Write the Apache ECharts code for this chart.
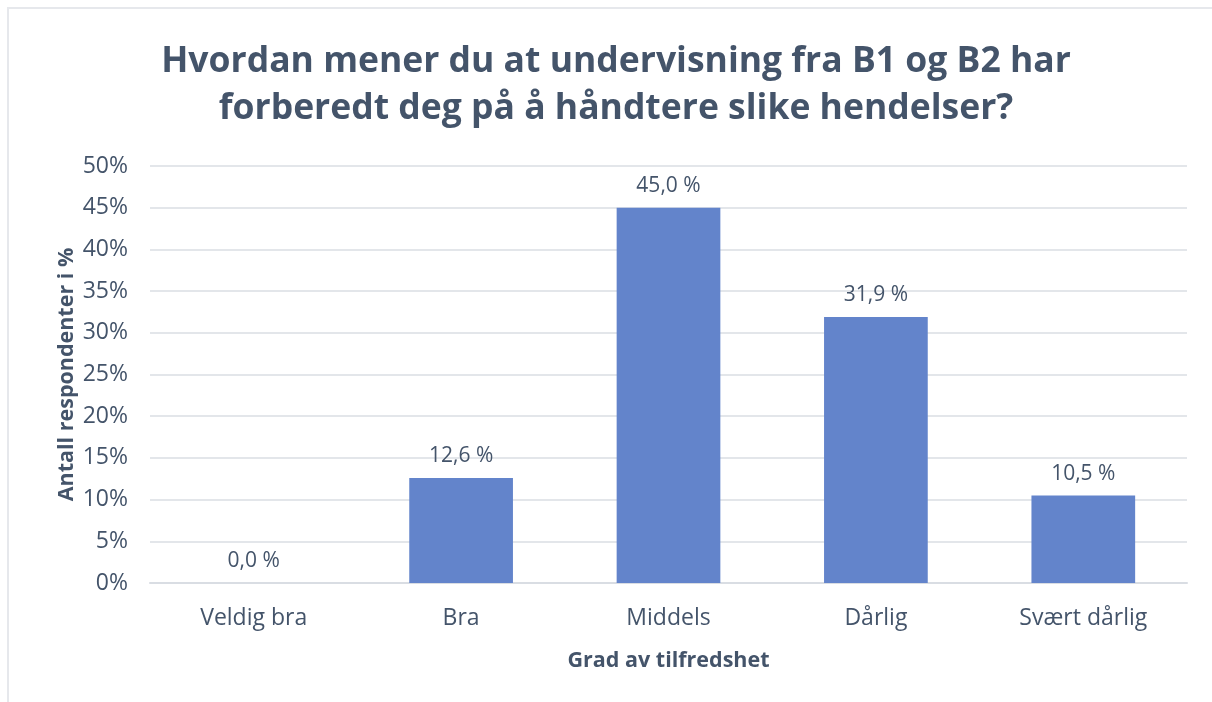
<!DOCTYPE html>
<html>
<head>
<meta charset="utf-8">
<script src="https://cdn.jsdelivr.net/npm/echarts@6/dist/echarts.min.js"></script>
<style>
  html, body { margin: 0; padding: 0; background: #fff; }
  #frame { position: absolute; left: 7px; top: 7px; width: 1205px; height: 695px;
           border-top: 2px solid #e6e8ec; border-left: 2px solid #e6e8ec; }
  #main { position: absolute; left: 0; top: 0; width: 1212px; height: 702px; }
</style>
</head>
<body>
<div id="frame"></div>
<div id="main"></div>
<script>
// data
const categories = ['Veldig bra', 'Bra', 'Middels', 'Dårlig', 'Svært dårlig'];
const shares = [0.0, 12.6, 45.0, 31.9, 10.5];
const yTicks = [0, 5, 10, 15, 20, 25, 30, 35, 40, 45, 50];

const textColor = '#44546a';
const fontFamily = '"Open Sans", sans-serif';

var myChart = echarts.init(document.getElementById('main'));

myChart.setOption({
  backgroundColor: 'transparent',
  textStyle: { fontFamily: fontFamily },
  title: {
    text: 'Hvordan mener du at undervisning fra B1 og B2 har\nforberedt deg på å håndtere slike hendelser?',
    left: 611,
    textAlign: 'center',
    top: 33,
    textStyle: { fontSize: 35.5, fontWeight: 'bold', color: textColor, lineHeight: 47, fontFamily: fontFamily }
  },
  grid: { left: 150, right: 25, top: 166, bottom: 119, containLabel: false },
  xAxis: {
    type: 'category',
    data: categories,
    name: 'Grad av tilfredshet',
    nameLocation: 'middle',
    nameGap: 67,
    nameTextStyle: { fontSize: 21.5, fontWeight: 'bold', color: textColor },
    axisLine: { show: true, lineStyle: { color: '#d9dde3', width: 2 } },
    axisTick: { show: false },
    axisLabel: { fontSize: 23, color: textColor, margin: 24 }
  },
  yAxis: {
    type: 'value',
    min: yTicks[0],
    max: yTicks[yTicks.length - 1],
    interval: 5,
    name: 'Antall respondenter i %',
    nameLocation: 'middle',
    nameMoveOverlap: false,
    nameGap: 72,
    nameTextStyle: { fontSize: 21.5, fontWeight: 'bold', color: textColor },
    axisLine: { show: false },
    axisTick: { show: false },
    axisLabel: { fontSize: 23, color: textColor, margin: 22, formatter: '{value}%' },
    splitLine: { lineStyle: { color: '#e3e6ea', width: 2 } }
  },
  series: [{
    type: 'bar',
    data: shares,
    barWidth: '50%',
    itemStyle: { color: '#6384cb' },
    label: {
      show: true,
      position: 'top',
      distance: 11,
      fontSize: 21,
      color: textColor,
      formatter: function (p) { return p.value.toFixed(1).replace('.', ',') + ' %'; }
    }
  }]
});
</script>
</body>
</html>
